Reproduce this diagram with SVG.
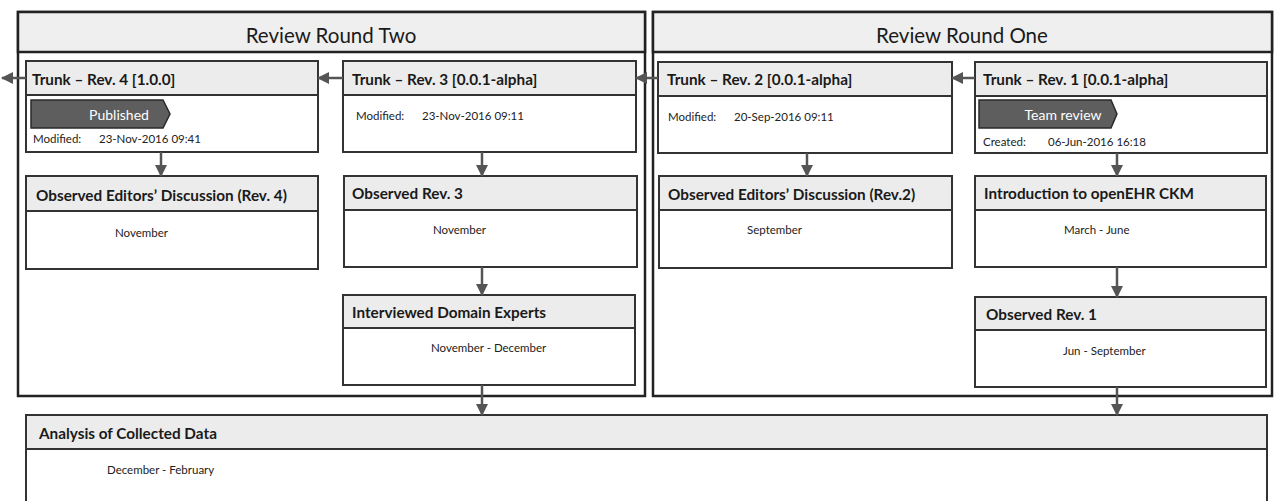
<svg xmlns="http://www.w3.org/2000/svg" width="1274" height="501" viewBox="0 0 1274 501">
<style>
.frame{fill:#ffffff;stroke:#222;stroke-width:2.5}
.fhead{fill:#efefef;stroke:#222;stroke-width:2.5}
.ftitle{font-family:Lato,"Liberation Sans",sans-serif;font-size:20.5px;fill:#1a1a1a;text-anchor:middle}
.body{fill:#ffffff;stroke:#333;stroke-width:2}
.head{fill:#ececec;stroke:#333;stroke-width:2}
.title{font-family:Lato,"Liberation Sans",sans-serif;font-weight:bold;font-size:15.3px;fill:#1a1a1a}
.small{font-family:Lato,"Liberation Sans",sans-serif;font-size:11.5px;fill:#222}
.badge{fill:#5e5e5e;stroke:#2a2a2a;stroke-width:1.5}
.btext{font-family:Lato,"Liberation Sans",sans-serif;font-size:14px;fill:#ffffff;text-anchor:middle}
.conn{stroke:#555;stroke-width:2.5;fill:none}
</style>
<defs>
<marker id="ah" markerUnits="userSpaceOnUse" markerWidth="12" markerHeight="12" refX="11" refY="6" orient="auto">
<path d="M0,0 L12,6 L0,12 z" fill="#555"/>
</marker>
</defs>
<rect width="1274" height="501" fill="#ffffff"/>

<g id="frame-two">
<rect class="frame" x="18" y="12" width="627" height="384"/>
<rect class="fhead" x="18" y="12" width="627" height="40"/>
<text class="ftitle" x="331" y="43">Review Round Two</text>
</g>
<g id="frame-one">
<rect class="frame" x="653" y="12" width="619" height="384"/>
<rect class="fhead" x="653" y="12" width="619" height="40"/>
<text class="ftitle" x="962" y="43">Review Round One</text>
</g>

<g id="rev4">
<rect class="body" x="26" y="61" width="292" height="91"/>
<rect class="head" x="26" y="61" width="292" height="34"/>
<text class="title" x="32" y="85">Trunk – Rev. 4 [1.0.0]</text>
<polygon class="badge" points="31,100 163,100 170,114 163,128 31,128"/>
<text class="btext" x="119" y="120">Published</text>
<text class="small" x="33" y="143">Modified:</text>
<text class="small" x="99" y="143">23-Nov-2016 09:41</text>
</g>
<g id="rev3">
<rect class="body" x="343" y="61" width="293" height="91"/>
<rect class="head" x="343" y="61" width="293" height="34"/>
<text class="title" x="352" y="85">Trunk – Rev. 3 [0.0.1-alpha]</text>
<text class="small" x="356" y="120">Modified:</text>
<text class="small" x="422" y="120">23-Nov-2016 09:11</text>
</g>
<g id="rev2">
<rect class="body" x="658" y="62" width="294" height="91"/>
<rect class="head" x="658" y="62" width="294" height="34"/>
<text class="title" x="667" y="85">Trunk – Rev. 2 [0.0.1-alpha]</text>
<text class="small" x="668" y="121">Modified:</text>
<text class="small" x="734" y="121">20-Sep-2016 09:11</text>
</g>
<g id="rev1">
<rect class="body" x="975" y="62" width="292" height="91"/>
<rect class="head" x="975" y="62" width="292" height="34"/>
<text class="title" x="983" y="85">Trunk – Rev. 1 [0.0.1-alpha]</text>
<polygon class="badge" points="979,100 1111,100 1117,114 1111,128 979,128"/>
<text class="btext" x="1063" y="120">Team review</text>
<text class="small" x="983" y="146">Created:</text>
<text class="small" x="1048" y="146">06-Jun-2016 16:18</text>
</g>

<g id="obs-ed-rev4">
<rect class="body" x="26" y="176" width="292" height="93"/>
<rect class="head" x="26" y="176" width="292" height="35"/>
<text class="title" x="36" y="201">Observed Editors’ Discussion (Rev. 4)</text>
<text class="small" x="115" y="237">November</text>
</g>
<g id="obs-rev3">
<rect class="body" x="344" y="176" width="293" height="91"/>
<rect class="head" x="344" y="176" width="293" height="34"/>
<text class="title" x="352" y="199">Observed Rev. 3</text>
<text class="small" x="433" y="234">November</text>
</g>
<g id="interviewed">
<rect class="body" x="343" y="295" width="292" height="90"/>
<rect class="head" x="343" y="295" width="292" height="33"/>
<text class="title" x="352" y="318">Interviewed Domain Experts</text>
<text class="small" x="431" y="352">November - December</text>
</g>
<g id="obs-ed-rev2">
<rect class="body" x="659" y="176" width="293" height="92"/>
<rect class="head" x="659" y="176" width="293" height="34"/>
<text class="title" x="668" y="200">Observed Editors’ Discussion (Rev.2)</text>
<text class="small" x="747" y="234">September</text>
</g>
<g id="intro">
<rect class="body" x="975" y="176" width="291" height="91"/>
<rect class="head" x="975" y="176" width="291" height="34"/>
<text class="title" x="984" y="199">Introduction to openEHR CKM</text>
<text class="small" x="1064" y="234">March - June</text>
</g>
<g id="obs-rev1">
<rect class="body" x="975" y="297" width="291" height="90"/>
<rect class="head" x="975" y="297" width="291" height="33"/>
<text class="title" x="986" y="320">Observed Rev. 1</text>
<text class="small" x="1063" y="355">Jun - September</text>
</g>
<g id="analysis">
<rect class="body" x="26" y="415" width="1241" height="100"/>
<rect class="head" x="26" y="415" width="1241" height="34"/>
<text class="title" x="39" y="439">Analysis of Collected Data</text>
<text class="small" x="107" y="474">December - February</text>
</g>

<g id="connectors">
<line class="conn" x1="26" y1="78" x2="2" y2="78" marker-end="url(#ah)"/>
<line class="conn" x1="343" y1="78" x2="318" y2="78" marker-end="url(#ah)"/>
<line class="conn" x1="658" y1="78" x2="636" y2="78" marker-end="url(#ah)"/>
<line class="conn" x1="975" y1="78" x2="952" y2="78" marker-end="url(#ah)"/>
<line class="conn" x1="161" y1="152" x2="161" y2="176" marker-end="url(#ah)"/>
<line class="conn" x1="482" y1="152" x2="482" y2="176" marker-end="url(#ah)"/>
<line class="conn" x1="807" y1="153" x2="807" y2="176" marker-end="url(#ah)"/>
<line class="conn" x1="1117" y1="153" x2="1117" y2="176" marker-end="url(#ah)"/>
<line class="conn" x1="482" y1="267" x2="482" y2="295" marker-end="url(#ah)"/>
<line class="conn" x1="1117" y1="267" x2="1117" y2="297" marker-end="url(#ah)"/>
<line class="conn" x1="482" y1="385" x2="482" y2="415" marker-end="url(#ah)"/>
<line class="conn" x1="1117" y1="387" x2="1117" y2="415" marker-end="url(#ah)"/>
</g>
</svg>
